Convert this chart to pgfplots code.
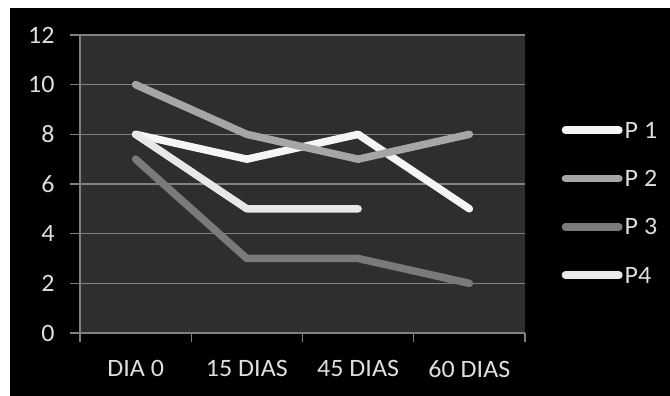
\documentclass[border=0pt]{standalone}
\usepackage{fontspec}
\setmainfont{Carlito}[FakeStretch=1.04]
\usepackage{pgfplots}
\pgfplotsset{compat=1.18}
\definecolor{plotbg}{HTML}{2E2E2E}
\definecolor{gridc}{HTML}{808080}
\definecolor{txt}{HTML}{DEDEDE}
\definecolor{cA}{HTML}{F5F5F5}
\definecolor{cB}{HTML}{A6A6A6}
\definecolor{cC}{HTML}{7A7A7A}
\definecolor{cD}{HTML}{E8E8E8}
\begin{document}
\begin{tikzpicture}
\path[use as bounding box] (0,0) rectangle (670bp,396bp);
\fill[white] (0,0) rectangle (670bp,396bp);
\fill[black] (10bp,0) rectangle (670bp,388bp);
\begin{axis}[
  at={(80bp,63bp)}, anchor=south west,
  scale only axis, width=445bp, height=298bp,
  xmin=-0.5, xmax=3.5, ymin=0, ymax=12,
  axis x line*=bottom, axis y line*=left,
  axis line style={gridc, line width=1.2bp},
  axis background/.style={fill=plotbg},
  xtick={0,1,2,3}, xticklabels={DIA 0, 15 DIAS, 45 DIAS, 60 DIAS},
  minor xtick={-0.5,0.5,1.5,2.5,3.5},
  ytick={0,2,...,12},
  ymajorgrids, grid style={gridc, line width=1.2bp},
  tick align=outside,
  major tick length=10bp, minor tick length=9bp,
  tick style={gridc, line width=1.2bp},
  major x tick style={draw=none},
  ticklabel style={font=\fontsize{25bp}{30bp}\selectfont, text=txt},
  xticklabel style={yshift=-14bp},
  yticklabel style={xshift=-12bp},
  /pgf/number format/assume math mode=true,
  legend cell align=left,
  legend style={at={(1.082,0.708)}, anchor=north west, draw=none, fill=none,
    inner sep=0pt, row sep=32.3bp, column sep=0bp,
    nodes={inner sep=0pt, text height=16bp, text depth=0pt, text=txt,
      font=\fontsize{25bp}{30bp}\selectfont}},
  legend image code/.code={\draw[#1, line width=7.5bp, line cap=round] (0bp,0bp) -- (53.5bp,0bp); \path (55.5bp,0bp);},
  every axis plot/.append style={line width=7.5bp, line cap=round, line join=round},
]
\addplot[cA] coordinates {(0,8) (1,7) (2,8) (3,5)};
\addlegendentry{P 1}
\addplot[cB] coordinates {(0,10) (1,8) (2,7) (3,8)};
\addlegendentry{P 2}
\addplot[cC] coordinates {(0,7) (1,3) (2,3) (3,2)};
\addlegendentry{P 3}
\addplot[cD] coordinates {(0,8) (1,5) (2,5)};
\addlegendentry{P4}
\end{axis}
\end{tikzpicture}
\end{document}
